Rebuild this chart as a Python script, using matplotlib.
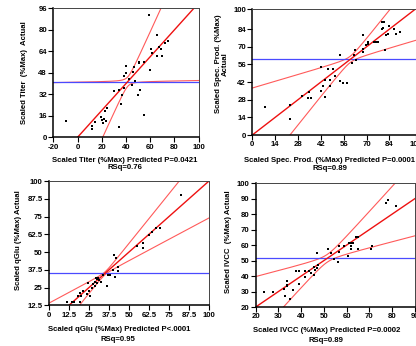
import numpy as np
import matplotlib
matplotlib.use('Agg')
import matplotlib.pyplot as plt

plt.rcParams['font.family'] = ['Liberation Sans', 'DejaVu Sans']
plt.rcParams['font.weight'] = 'bold'

# --- данные ---
titer_pred = [59.2, 65.3, 74.9, 71.9, 67.0, 60.9, 68.6, 61.2, 65.3, 69.5, 59.8, 54.9, 51.0, 50.4,
              40.2, 46.6, 40.0, 46.0, 38.3, 42.5, 47.2, 45.0, 38.6, 30.1, 34.0, 36.7, 51.6, 49.7,
              36.1, 55.1, 24.1, 22.7, 19.4, 21.8, 23.5, 20.4, 20.8, 14.4, 11.9, 11.9, -9.8, 34.2]
titer_act = [91.2, 75.9, 71.9, 70.2, 67.2, 65.7, 65.7, 62.7, 60.7, 60.3, 50.3, 56.3, 56.3, 55.6,
             53.3, 52.6, 47.8, 48.8, 45.6, 43.4, 41.9, 38.7, 36.7, 34.4, 35.2, 31.5, 35.2, 31.5,
             24.8, 16.6, 21.6, 19.8, 14.9, 13.9, 12.4, 12.9, 10.9, 11.6, 8.4, 6.2, 12.4, 7.4]

spec_pred = [7.6, 23.0, 23.0, 30.5, 34.0, 34.8, 35.7, 41.8, 41.8, 43.6, 44.6, 44.6, 46.4, 47.7,
             47.9, 49.5, 50.5, 53.8, 54.0, 55.4, 58.3, 60.9, 62.6, 62.9, 63.3, 67.6, 67.6, 67.6,
             69.9, 70.9, 71.1, 74.3, 76.0, 76.8, 79.2, 80.4, 79.6, 80.0, 83.7, 83.1, 82.1, 86.6,
             88.2, 90.2, 81.3]
spec_act = [22.2, 23.8, 12.4, 31.2, 29.6, 33.9, 29.1, 53.7, 34.9, 38.9, 43.4, 30.4, 52.1, 43.4,
            38.9, 52.6, 47.1, 42.6, 63.3, 41.3, 41.3, 57.1, 63.5, 67.5, 59.5, 79.4, 68.5, 65.6,
            71.4, 72.5, 74.1, 73.6, 73.8, 74.1, 89.4, 89.9, 84.1, 84.6, 86.7, 79.9, 79.4, 84.1,
            79.9, 81.5, 67.2]

qglu_pred = [82.3, 69.4, 66.9, 64.2, 62.7, 58.6, 58.8, 54.8, 40.6, 42.1, 42.9, 39.8, 38.3, 41.3,
             42.9, 36.9, 36.3, 33.8, 32.3, 30.4, 29.8, 28.8, 27.7, 26.7, 24.2, 28.8, 24.8, 25.6,
             23.9, 19.8, 19.2, 17.9, 19.6, 15.6, 14.2, 11.3, 21.3, 29.2, 31.0, 30.0]
qglu_act = [90.4, 66.6, 66.6, 64.1, 61.7, 56.5, 53.0, 53.9, 47.8, 45.9, 39.8, 37.2, 33.9, 32.5,
            36.7, 34.1, 26.3, 33.7, 29.0, 32.0, 31.1, 29.0, 27.6, 24.7, 28.5, 26.3, 22.8, 19.3,
            20.7, 19.3, 21.0, 19.1, 15.0, 15.0, 14.8, 15.0, 22.4, 31.7, 30.2, 28.0]

ivcc_pred = [77.2, 78.4, 81.8, 65.0, 64.3, 62.7, 61.8, 61.0, 62.0, 62.0, 58.7, 56.5, 56.5, 60.8,
             56.2, 54.5, 53.3, 51.8, 47.1, 65.0, 70.9, 71.2, 46.9, 45.5, 46.0, 44.5, 45.5, 43.3,
             41.6, 41.6, 38.9, 38.9, 37.9, 36.3, 33.8, 33.6, 33.9, 32.6, 32.8, 35.0, 27.5, 23.8,
             47.4]
ivcc_act = [87.3, 89.4, 85.1, 65.5, 65.5, 61.6, 61.4, 61.4, 59.5, 57.3, 59.3, 59.3, 55.4, 53.2,
            49.3, 51.2, 54.9, 57.3, 55.1, 57.3, 57.3, 59.3, 45.2, 45.7, 43.9, 42.0, 40.9, 43.1,
            43.1, 39.2, 34.9, 43.1, 43.1, 31.2, 37.0, 34.4, 33.4, 31.6, 27.3, 25.4, 29.5, 29.5,
            47.0]

# среднее значение (синяя линия) и параметры доверительных кривых: центр, полуширина, наклон
titer_mean, titer_band = 41.2, (41.5, 3.5, 0.985)
spec_mean, spec_band = 60.0, (60.0, 2.5, 0.62)
qglu_mean, qglu_band = 35.1, (35.0, 1.0, 0.40)
ivcc_mean, ivcc_band = 51.5, (51.5, 2.5, 0.62)

W, H = 416, 346
fig = plt.figure(figsize=(W / 100, H / 100), dpi=100)


def add_ax(l, r, t, b):
    # координаты в пикселях картинки
    return fig.add_axes([l / W, 1 - b / H, (r - l) / W, (b - t) / H])


def leverage(ax, pred, act, mean, band, xlim, ylim, xticks, yticks, xlabels, ylabels):
    xs = np.linspace(xlim[0], xlim[1], 400)
    xm, a, c = band
    half = np.sqrt(a ** 2 + (c * (xs - xm)) ** 2)
    ax.plot(xs, xs + half, color='#ff5a5a', lw=0.8)
    ax.plot(xs, xs - half, color='#ff5a5a', lw=0.8)
    ax.axhline(mean, color='#4a4aff', lw=0.9)
    ax.plot(xs, xs, color='#ee1111', lw=1.0)
    ax.plot(pred, act, 's', color='black', ms=1.9, mew=0)
    ax.set_xlim(xlim)
    ax.set_ylim(ylim)
    ax.set_xticks(xticks)
    ax.set_xticklabels(xlabels)
    ax.set_yticks(yticks)
    ax.set_yticklabels(ylabels)
    ax.tick_params(direction='out', length=3.5, width=0.8, labelsize=5.6, pad=1)
    for s in ['left', 'bottom']:
        ax.spines[s].set_linewidth(1.1)
    for s in ['top', 'right']:
        ax.spines[s].set_linewidth(0.7)
        ax.spines[s].set_color('#444444')


ax1 = add_ax(53.3, 198.7, 8.3, 137.3)
t1 = [-20, 0, 20, 40, 60, 80, 100]
v1 = [0, 16, 32, 48, 64, 80, 96]
leverage(ax1, titer_pred, titer_act, titer_mean, titer_band, (-20, 100), (0, 96),
         t1, v1, [str(v) for v in t1], [str(v) for v in v1])

ax2 = add_ax(252.3, 415.5, 9, 135)
t2 = [0, 14, 28, 42, 56, 70, 84, 100]
leverage(ax2, spec_pred, spec_act, spec_mean, spec_band, (0, 100), (0, 100),
         t2, t2, [str(v) for v in t2], [str(v) for v in t2])

ax3 = add_ax(49, 209, 181, 305.3)
t3 = [0, 12.5, 25, 37.5, 50, 62.5, 75, 87.5, 100]
lab3 = ['0', '12.5', '25', '37.5', '50', '62.5', '75', '87.5', '100']
leverage(ax3, qglu_pred, qglu_act, qglu_mean, qglu_band, (0, 100), (12.5, 100),
         t3, t3[1:], lab3, lab3[1:])

ax4 = add_ax(255.7, 414.7, 183.3, 307)
t4x = [20, 30, 40, 50, 60, 70, 80, 90]
t4y = [20, 30, 40, 50, 60, 70, 80, 90, 100]
leverage(ax4, ivcc_pred, ivcc_act, ivcc_mean, ivcc_band, (20, 90), (20, 100),
         t4x, t4y, [str(v) for v in t4x], [str(v) for v in t4y])

# подписи осей
fs = 5.6
def txt(x, y, s, rot=0):
    fig.text(x / W, 1 - y / H, s, ha='center', va='center', rotation=rot,
             fontsize=fs, fontweight='bold', linespacing=1.0)

txt(25, 73, 'Scaled Titer  (%Max)  Actual', 90)
txt(124.7, 160, 'Scaled Titer (%Max) Predicted P=0.0421')
txt(124.7, 167.5, 'RSq=0.76')

txt(222, 64, 'Scaled Spec. Prod. (%Max)\nActual', 90)
txt(330, 160, 'Scaled Spec. Prod. (%Max) Predicted P=0.0001')
txt(330, 168, 'RSq=0.89')

txt(18.3, 240, 'Scaled qGlu (%Max) Actual', 90)
txt(119, 329.3, 'Scaled qGlu (%Max) Predicted P<.0001')
txt(118.3, 339.3, 'RSq=0.95')

txt(228, 241.3, 'Scaled IVCC  (%Max) Actual', 90)
txt(326.7, 331, 'Scaled IVCC (%Max) Predicted P=0.0002')
txt(326.3, 340.8, 'RSq=0.89')

fig.savefig('out.png', dpi=100)
